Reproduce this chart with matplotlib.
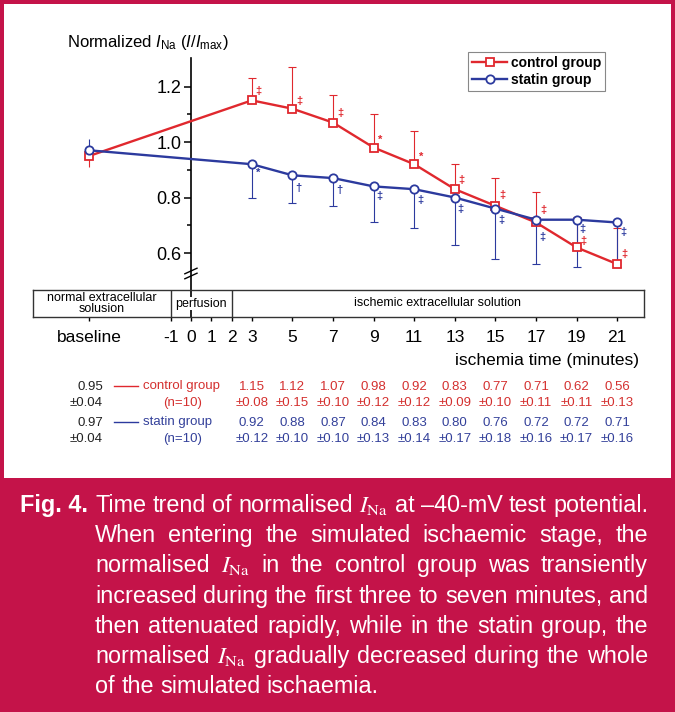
import numpy as np
import matplotlib
import matplotlib.pyplot as plt
from matplotlib import transforms
from matplotlib.patches import Rectangle

matplotlib.use("Agg")

plt.rcParams["font.family"] = ["Liberation Sans", "DejaVu Sans"]
plt.rcParams["mathtext.fontset"] = "custom"
plt.rcParams["mathtext.rm"] = "Liberation Sans"
plt.rcParams["mathtext.it"] = "Liberation Sans:italic"
plt.rcParams["mathtext.bf"] = "Liberation Sans:bold"

# ---- data ----
minutes = [3, 5, 7, 9, 11, 13, 15, 17, 19, 21]
tick_minutes = [-1, 0, 1, 2, 3, 5, 7, 9, 11, 13, 15, 17, 19, 21]

control_base = 0.95
control_base_sd = 0.04
control_mean = [1.15, 1.12, 1.07, 0.98, 0.92, 0.83, 0.77, 0.71, 0.62, 0.56]
control_sd = [0.08, 0.15, 0.10, 0.12, 0.12, 0.09, 0.10, 0.11, 0.11, 0.13]
control_sig = ["‡", "‡", "‡", "*", "*", "‡", "‡", "‡", "‡", "‡"]
control_n = 10

statin_base = 0.97
statin_base_sd = 0.04
statin_mean = [0.92, 0.88, 0.87, 0.84, 0.83, 0.80, 0.76, 0.72, 0.72, 0.71]
statin_sd = [0.12, 0.10, 0.10, 0.13, 0.14, 0.17, 0.18, 0.16, 0.17, 0.16]
statin_sig = ["*", "†", "†", "‡", "‡", "‡", "‡", "‡", "‡", "‡"]
statin_n = 10

phase_labels = ["normal extracellular\nsolusion", "perfusion",
                "ischemic extracellular solution"]
phase_edges = [-1, 2]

NA = r"$I_{\mathrm{Na}}$"
caption_lines = [
    ["Time", "trend", "of", "normalised", NA, "at", "–40-mV", "test", "potential."],
    "When entering the simulated ischaemic stage, the".split(),
    ["normalised", NA, "in", "the", "control", "group", "was", "transiently"],
    "increased during the first three to seven minutes, and".split(),
    "then attenuated rapidly, while in the statin group, the".split(),
    ["normalised", NA, "gradually", "decreased", "during", "the", "whole"],
    "of the simulated ischaemia.".split(),
]

# ---- layout (pixels of the 675x712 picture) ----
W, H = 675, 712
CRIMSON = "#C41349"
RED = "#E0282E"
BLUE = "#2C3A9E"
RED_T = "#D4302F"
BLUE_T = "#33409A"
BASE_X = -5
XLIM = (-7.78, 22.32)
YLIM = (0.4667, 1.3027)
# significance symbol offsets (pixels) from each point
ctrl_sig_dy = [9, 8, 10, 8, 7, 9, 11, 12, 6, 10]
stat_sig_dy = [-9, -13, -12, -10, -11, -11, -11, -17, -9, -10]


def fig_rect(x0, y0, x1, y1):
    return [x0 / W, 1 - y1 / H, (x1 - x0) / W, (y1 - y0) / H]


fig = plt.figure(figsize=(W / 100, H / 100), dpi=100, facecolor=CRIMSON)

bg = fig.add_axes([0, 0, 1, 1])
bg.set_xlim(0, W)
bg.set_ylim(H, 0)
bg.axis("off")
bg.add_patch(Rectangle((4, 4), 667, 474, facecolor="white", edgecolor="none"))

# main data axes
ax = fig.add_axes(fig_rect(33, 58, 644, 290))
ax.set_zorder(2)
ax.patch.set_alpha(0)
ax.set_xlim(*XLIM)
ax.set_ylim(*YLIM)
for side in ("top", "right", "bottom"):
    ax.spines[side].set_visible(False)
ax.spines["left"].set_position(("data", 0))
ax.spines["left"].set_linewidth(1.2)
ax.set_xticks([])
ax.set_yticks([0.6, 0.8, 1.0, 1.2])
ax.set_yticklabels(["0.6", "0.8", "1.0", "1.2"])
ax.set_yticks([0.7, 0.9, 1.1], minor=True)
ax.tick_params(axis="y", which="major", length=5, width=1.1, labelsize=13, pad=2)
ax.tick_params(axis="y", which="minor", length=3, width=1.1)

# axis break marks
brk = transforms.blended_transform_factory(ax.transData, ax.transAxes)
for dy in (14, 19):
    ax.plot([-0.3, 0.3], [dy / 232 - 0.012, dy / 232 + 0.012], transform=brk,
            color="black", lw=1, clip_on=False)

xc = [BASE_X] + minutes
ax.plot(xc, [control_base] + control_mean, color=RED, lw=1.7, marker="s",
        ms=5.5, mfc="white", mec=RED, mew=1.3, zorder=5, label="control group")
ax.plot(xc, [statin_base] + statin_mean, color=BLUE, lw=1.7, marker="o",
        ms=6, mfc="white", mec=BLUE, mew=1.3, zorder=5, label="statin group")

c_top = np.add(control_mean, control_sd)
s_bot = np.subtract(statin_mean, statin_sd)
ax.vlines(minutes, control_mean, c_top, color=RED, lw=0.8, zorder=3)
ax.plot(minutes, c_top, ls="none", marker="_", ms=6, mew=0.8, color=RED, zorder=3)
ax.vlines(minutes, s_bot, statin_mean, color=BLUE, lw=0.8, zorder=3)
ax.plot(minutes, s_bot, ls="none", marker="_", ms=6, mew=0.8, color=BLUE, zorder=3)
ax.vlines(BASE_X, control_base - control_base_sd, control_base, color=RED, lw=0.8, zorder=3)
ax.vlines(BASE_X, statin_base, statin_base + statin_base_sd, color=BLUE, lw=0.8, zorder=3)

for x, y, s, dy in zip(minutes, control_mean, control_sig, ctrl_sig_dy):
    ax.annotate(s, (x, y), xytext=(7, dy), textcoords="offset pixels",
                ha="center", va="center", fontsize=8, color=RED, fontweight="bold")
for x, y, s, dy in zip(minutes, statin_mean, statin_sig, stat_sig_dy):
    ax.annotate(s, (x, y), xytext=(6, dy), textcoords="offset pixels",
                ha="center", va="center", fontsize=8, color=BLUE, fontweight="bold")

leg = ax.legend(loc="upper left", bbox_to_anchor=(468 / W, 1 - 52 / H),
                bbox_transform=fig.transFigure, borderaxespad=0, borderpad=0.3,
                handlelength=2.5, handletextpad=0.3, labelspacing=0.2,
                fancybox=False, edgecolor="#888888", framealpha=1,
                prop={"weight": "bold", "size": 10})
leg.get_frame().set_linewidth(0.8)

# phase box with the time ticks
axb = fig.add_axes(fig_rect(33, 290, 644, 317))
axb.set_zorder(2)
axb.set_xlim(*XLIM)
axb.set_ylim(0, 1)
axb.set_yticks([])
for sp in axb.spines.values():
    sp.set_linewidth(1)
    sp.set_color("#333333")
for e in phase_edges:
    axb.axvline(e, color="#333333", lw=1)
axb.axvline(0, color="black", lw=1.2)
bounds = [XLIM[0]] + phase_edges + [XLIM[1]]
for i, lab in enumerate(phase_labels):
    cx = (bounds[i] + bounds[i + 1]) / 2
    kw = {}
    if i == 1:
        kw["bbox"] = dict(facecolor="white", edgecolor="none", pad=0.5)
    axb.text(cx, 0.5, lab, ha="center", va="center", fontsize=9,
             linespacing=0.85, **kw)
axb.set_xticks([BASE_X] + tick_minutes)
axb.set_xticklabels(["baseline"] + [str(m) for m in tick_minutes])
axb.tick_params(axis="x", direction="out", length=3, width=1, labelsize=12.5, pad=6)

bg.text(639, 360, "ischemia time (minutes)", ha="right", va="center", fontsize=12.5)
bg.text(67, 43, r"Normalized $I_{\mathrm{Na}}$ ($I$/$I_{\mathrm{max}}$)",
        ha="left", va="center", fontsize=12)

# values table under the axis
trans = transforms.blended_transform_factory(axb.transData, bg.transData)
rows = [(control_base, control_base_sd, control_mean, control_sd, RED, RED_T,
         "control group", control_n, 387),
        (statin_base, statin_base_sd, statin_mean, statin_sd, BLUE, BLUE_T,
         "statin group", statin_n, 423)]
for base, base_sd, means, sds, lc, tc, name, n, y in rows:
    bg.text(103, y, f"{base:.2f}", ha="right", va="center", fontsize=9.5, color="#222222")
    bg.text(103, y + 16, f"±{base_sd:.2f}", ha="right", va="center", fontsize=9.5,
            color="#222222")
    bg.plot([114, 138], [y - 1, y - 1], color=lc, lw=1)
    bg.text(143, y - 1, name, ha="left", va="center", fontsize=9.5, color=tc)
    bg.text(183, y + 16, f"(n={n})", ha="center", va="center", fontsize=9.5, color=tc)
    for x, m, s in zip(minutes, means, sds):
        bg.text(x, y, f"{m:.2f}", transform=trans, ha="center", va="center",
                fontsize=9.5, color=tc)
        bg.text(x, y + 16, f"±{s:.2f}", transform=trans, ha="center", va="center",
                fontsize=9.5, color=tc)

# justified caption
renderer = fig.canvas.get_renderer()
CAP_FS = 16.8


def width_of(s, **kw):
    t = bg.text(0, 0, s, fontsize=CAP_FS, math_fontfamily="stix", **kw)
    w = t.get_window_extent(renderer=renderer).width
    t.remove()
    return w


space_w = width_of("x x") - width_of("xx")
bg.text(20, 512, "Fig. 4.", color="white", fontsize=CAP_FS, fontweight="bold",
        va="baseline", ha="left")
for i, words in enumerate(caption_lines):
    y = 512 + i * 30.2
    left, right = 95, 648
    widths = [width_of(w) for w in words]
    last = i == len(caption_lines) - 1
    gap = space_w if last else (right - left - sum(widths)) / (len(words) - 1)
    x = left
    for w, wd in zip(words, widths):
        bg.text(x, y, w, color="white", fontsize=CAP_FS, va="baseline", ha="left",
                math_fontfamily="stix")
        x += wd + gap

fig.savefig("out.png", dpi=100, facecolor=fig.get_facecolor())
